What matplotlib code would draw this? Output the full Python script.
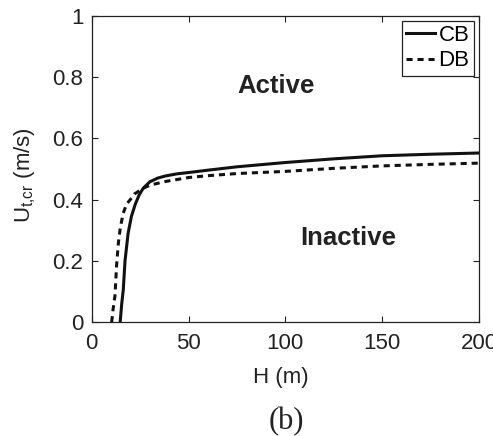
import numpy as np
import matplotlib.pyplot as plt

plt.rcParams['font.family'] = ['Liberation Sans', 'DejaVu Sans']

# critical velocity vs. depth, read per curve
H_cb = [14.7, 15.5, 16.3, 17.2, 18.8, 20.5, 22.5, 24.5, 26.6, 30.0, 34.0, 38.0, 44.0, 51.0,
        60.0, 75.0, 100.0, 125.0, 150.0, 175.0, 200.0]
U_cb = [0.000, 0.060, 0.105, 0.200, 0.290, 0.345, 0.385, 0.415, 0.437, 0.458, 0.470, 0.477,
        0.484, 0.489, 0.496, 0.507, 0.521, 0.533, 0.543, 0.548, 0.552]

H_db = [10.3, 11.0, 12.0, 12.9, 13.8, 14.8, 16.3, 18.0, 19.8, 22.0, 26.6, 30.0, 38.0, 50.0,
        60.0, 75.0, 100.0, 125.0, 150.0, 175.0, 200.0]
U_db = [0.000, 0.040, 0.085, 0.190, 0.260, 0.310, 0.356, 0.385, 0.399, 0.418, 0.437, 0.447,
        0.459, 0.472, 0.478, 0.485, 0.492, 0.502, 0.510, 0.515, 0.519]

xticks = [0, 50, 100, 150, 200]
yticks = [0, 0.2, 0.4, 0.6, 0.8, 1]
yticklabels = ['0', '0.2', '0.4', '0.6', '0.8', '1']

ink = '#222222'

fig = plt.figure(figsize=(4.93, 4.36), dpi=100)
ax = fig.add_axes([0.186, 0.261, 0.7856, 0.703])

ax.plot(H_cb, U_cb, c='#111111', lw=2.2, ls='-', label='CB')
ax.plot(H_db, U_db, c='#111111', lw=2.2, ls=(0, (2.0, 1.6)), label='DB')

ax.set_xlim(0, 200)
ax.set_ylim(0, 1)
ax.set_xticks(xticks)
ax.set_yticks(yticks)
ax.set_yticklabels(yticklabels)
ax.tick_params(which='both', direction='in', top=True, right=True, length=4,
               labelsize=16, colors=ink)
ax.tick_params(axis='x', pad=8)
ax.tick_params(axis='y', pad=6)
for s in ax.spines.values():
    s.set_linewidth(0.9)
    s.set_color(ink)

ax.set_xlabel('H (m)', fontsize=16, color=ink, va='top')
ax.xaxis.set_label_coords(0.487, -0.146)
ax.set_ylabel(r'U$_{\mathregular{t{,}cr}}$ (m/s)', fontsize=16, color=ink, va='bottom')
ax.yaxis.set_label_coords(-0.139, 0.48)

ax.text(95, 0.77, 'Active', fontsize=18.5, fontweight='bold', color=ink,
        ha='center', va='center')
ax.text(132.4, 0.275, 'Inactive', fontsize=18.5, fontweight='bold', color=ink,
        ha='center', va='center')

leg = ax.legend(loc='upper right', bbox_to_anchor=(0.987, 0.984), borderaxespad=0,
                fancybox=False, framealpha=1, edgecolor=ink, fontsize=16,
                handlelength=1.3, handletextpad=0.15, borderpad=0.2, labelspacing=0.2)
leg.get_frame().set_linewidth(0.9)

fig.text(0.58, 0.032, '(b)', fontsize=22, family='Liberation Serif', color=ink,
         ha='center', va='center')

fig.savefig('out.png', dpi=100)
